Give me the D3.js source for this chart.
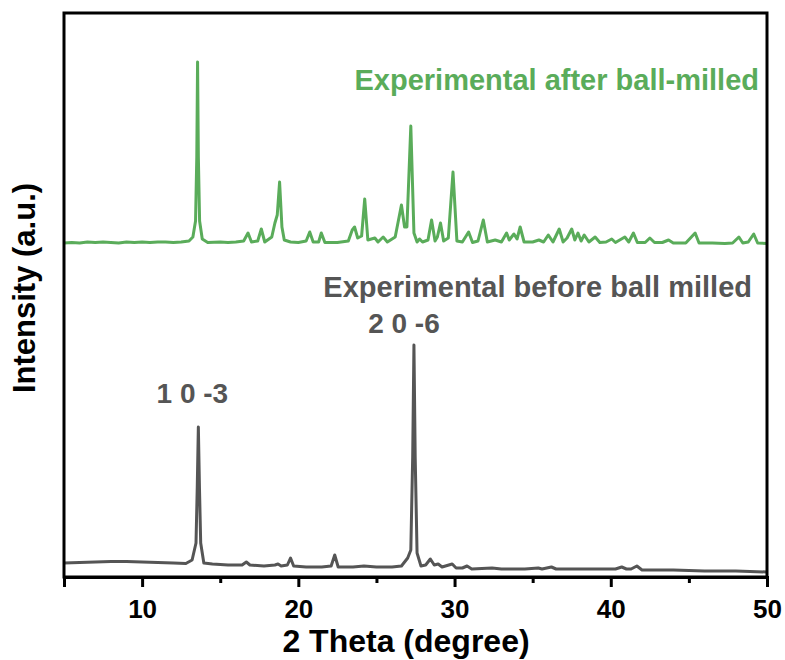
<!DOCTYPE html>
<html>
<head>
<meta charset="utf-8">
<script src="https://cdn.jsdelivr.net/npm/d3@7"></script>
<style>
  html, body { margin: 0; padding: 0; background: #fff; }
  svg { display: block; }
  text { font-family: "Liberation Sans", Arial, Helvetica, sans-serif; font-weight: bold; }
</style>
</head>
<body>
<svg id="chart" width="785" height="660"></svg>
<script>
// ---- data (2θ in degrees, intensity in arbitrary units) ----
const afterMilled = [
  [5.0,334],[5.5,334.5],[6.0,334],[6.5,335],[7.0,334.5],[7.5,335],[8.0,334.5],[8.5,334],[9.0,335],[9.5,334.5],
  [10.0,335],[10.5,334.5],[11.0,335],[11.5,335],[12.0,334.5],[12.5,335],[13.0,336],[13.25,340],[13.42,356],
  [13.5,420],[13.55,515],[13.6,420],[13.68,356],[13.85,338],[14.2,334.5],[15.0,335],[15.5,334.5],[16.0,335],
  [16.5,336],[16.78,344],[17.0,335],[17.4,336],[17.63,348],[17.85,335],[18.3,340],[18.5,354],[18.65,362],
  [18.8,395],[18.95,350],[19.1,337],[19.5,335],[20.0,334.5],[20.5,336],[20.73,345],[20.95,335],[21.3,335],
  [21.47,344],[21.7,334.5],[22.5,334.5],[23.2,336],[23.45,347],[23.6,350],[23.8,339],[24.05,341],[24.25,378],
  [24.45,337],[24.9,339],[25.1,335],[25.43,340],[25.7,335],[26.2,340],[26.45,360],[26.6,372],[26.8,350],
  [26.95,350],[27.2,451],[27.4,344],[27.6,335],[27.76,338],[27.95,335],[28.3,337],[28.53,357],[28.75,336],
  [28.9,340],[29.1,354],[29.3,336],[29.6,339],[29.9,405],[30.15,336],[30.5,335],[30.9,345],[31.15,334.5],
  [31.5,336],[31.84,357],[32.1,335],[32.6,337],[33.0,335],[33.33,344],[33.5,337],[33.8,343],[34.0,338],
  [34.2,350],[34.45,335],[35.0,335],[35.4,337],[35.7,335],[36.0,342],[36.3,335],[36.7,348],[36.95,335],
  [37.2,339],[37.5,348],[37.7,337],[37.9,344],[38.1,336],[38.3,342],[38.6,335],[39.0,340],[39.3,334.5],
  [39.7,335],[40.06,338],[40.3,334.5],[40.9,340],[41.15,335],[41.45,344],[41.7,334.5],[42.2,334.5],[42.5,339],
  [42.8,334.5],[43.3,334.5],[43.7,337],[44.0,334],[44.8,334],[45.4,344],[45.65,334],[46.5,334],[47.3,333.5],
  [47.8,334],[48.2,340],[48.45,334],[48.8,335],[49.15,343],[49.4,334],[50.0,333.5]
];

const beforeMilled = [
  [5.0,14],[6.0,14.5],[7.0,15],[8.0,15.5],[9.0,15.5],[10.0,15],[11.0,14.5],[12.0,14],[12.8,13.5],[13.2,17],
  [13.45,34],[13.53,90],[13.6,150],[13.67,90],[13.75,34],[13.95,14],[14.5,13],[15.5,12],[16.4,12],
  [16.67,15],[16.9,12],[17.8,11],[18.5,12],[18.7,13],[18.9,11],[19.3,12],[19.5,19],[19.7,11],[20.5,10],
  [21.5,10],[22.1,11],[22.33,22],[22.55,10],[23.5,10],[24.2,11],[25.0,10],[26.0,10],[26.6,11],[27.0,19],
  [27.2,27],[27.32,120],[27.4,232],[27.48,120],[27.6,24],[27.85,11],[28.15,12],[28.45,18],[28.7,12],
  [28.95,13],[29.2,10],[29.85,13],[30.1,9],[30.5,9],[30.8,11],[31.1,8],[32.4,9],[33.0,8],[34.5,8],
  [35.36,9],[35.6,8],[36.2,10],[36.5,8],[38.0,8],[39.5,8],[40.3,8],[40.7,10],[41.0,8],[41.3,8],
  [41.67,11],[42.0,7],[44.0,7],[46.0,6],[48.0,6],[50.0,5]
];

const majorTicks = [10, 20, 30, 40, 50];
const minorTicks = [5, 15, 25, 35, 45];
const xDomain = [5, 50];
const yDomain = [0, 564];

const seriesNames = ["Experimental after ball-milled", "Experimental before ball milled"];
const peakLabels = [
  { text: "1 0 -3", x: 13.6, y: 150 },
  { text: "2 0 -6", x: 27.4, y: 232 }
];
const xTitle = "2 Theta (degree)";
const yTitle = "Intensity (a.u.)";

// ---- layout ----
const margin = { left: 64, top: 13, right: 18, bottom: 83 };
const W = 785, H = 660;
const iw = W - margin.left - margin.right;   // 703
const ih = H - margin.top - margin.bottom;   // 564

const green = "#5aac5a";
const gray = "#555555";

const svg = d3.select("#chart");
const g = svg.append("g").attr("transform", `translate(${margin.left},${margin.top})`);

const x = d3.scaleLinear().domain(xDomain).range([0, iw]);
const y = d3.scaleLinear().domain(yDomain).range([ih, 0]);

const line = d3.line().x(d => x(d[0])).y(d => y(d[1]));

g.append("path").datum(beforeMilled)
  .attr("d", line).attr("fill", "none").attr("stroke", gray)
  .attr("stroke-width", 3).attr("stroke-linejoin", "round");

g.append("path").datum(afterMilled)
  .attr("d", line).attr("fill", "none").attr("stroke", green)
  .attr("stroke-width", 3).attr("stroke-linejoin", "round");

// frame
g.append("rect").attr("x", 0).attr("y", 0).attr("width", iw).attr("height", ih)
  .attr("fill", "none").attr("stroke", "#000").attr("stroke-width", 3);

// axes
const axMinor = d3.axisBottom(x).tickValues(minorTicks).tickSize(6).tickFormat("");
const axMajor = d3.axisBottom(x).tickValues(majorTicks).tickSize(10).tickPadding(13).tickFormat(d3.format("d"));

const gMinor = g.append("g").attr("transform", `translate(0,${ih})`).call(axMinor);
const gMajor = g.append("g").attr("transform", `translate(0,${ih})`).call(axMajor);
[gMinor, gMajor].forEach(a => {
  a.select(".domain").attr("stroke", "#000").attr("stroke-width", 3);
  a.selectAll(".tick line").attr("stroke", "#000").attr("stroke-width", 3);
});
gMajor.selectAll(".tick text")
  .attr("fill", "#000").style("font-size", "26px").style("font-weight", "bold")
  .style("font-family", "'Liberation Sans', Arial, sans-serif");

// axis titles
svg.append("text").attr("x", 406).attr("y", 652)
  .attr("text-anchor", "middle").attr("fill", "#000").style("font-size", "32px").text(xTitle);

svg.append("text").attr("transform", `translate(35,${288}) rotate(-90)`)
  .attr("text-anchor", "middle").attr("fill", "#000").style("font-size", "31px").text(yTitle);

// series labels
g.append("text").attr("x", x(50) - 8).attr("y", 90 - margin.top)
  .attr("text-anchor", "end").attr("fill", green).style("font-size", "29px").text(seriesNames[0]);
g.append("text").attr("x", x(50) - 15).attr("y", 297 - margin.top)
  .attr("text-anchor", "end").attr("fill", gray).style("font-size", "29px").text(seriesNames[1]);

// peak labels
g.selectAll(".peak").data(peakLabels).enter().append("text")
  .attr("class", "peak")
  .attr("x", (d, i) => x(d.x) + (i === 0 ? -6 : -10))
  .attr("y", (d, i) => y(d.y) - (i === 0 ? 24 : 12))
  .attr("text-anchor", "middle").attr("fill", gray).style("font-size", "28px")
  .text(d => d.text);
</script>
</body>
</html>
